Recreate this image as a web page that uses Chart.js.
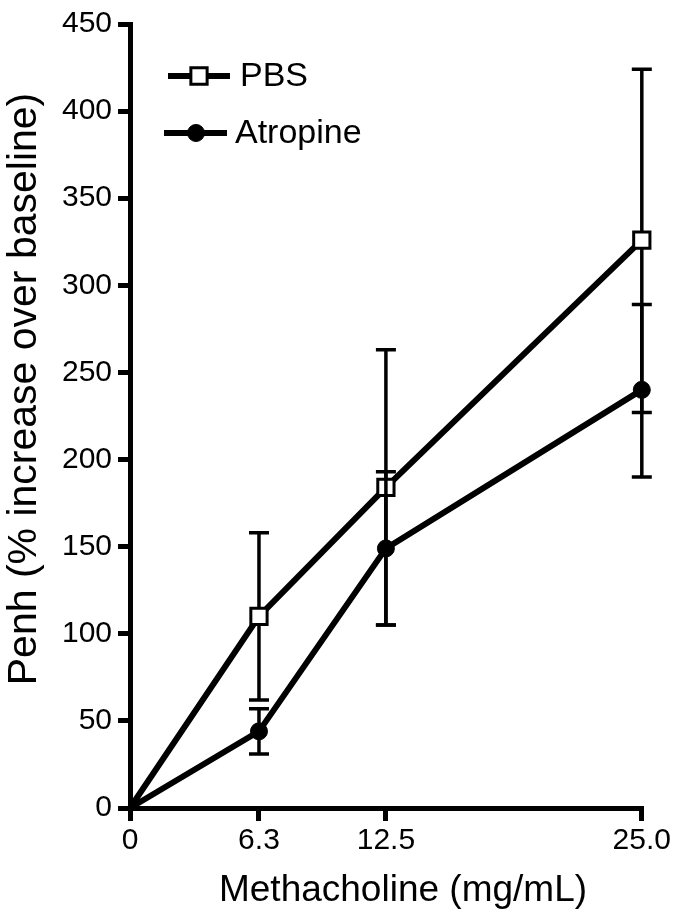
<!DOCTYPE html>
<html><head><meta charset="utf-8">
<script src="https://cdn.jsdelivr.net/npm/chart.js@4"></script>
<style>html,body{margin:0;padding:0;background:#fff}#c{display:block}</style>
</head><body>
<canvas id="c" width="673" height="910"></canvas>
<script>
const doses = [0, 6.3, 12.5, 25.0];
const xTickLabels = ['0', '6.3', '12.5', '25.0'];
const pbsMean = [0, 110, 184, 326];
const pbsHigh = [0, 158, 263, 424];
const pbsLow = [0, 62, 105, 227];
const atrMean = [0, 44, 149, 240];
const atrHigh = [0, 57, 193, 289];
const atrLow = [0, 31, 105, 190];
const seriesNames = ['PBS', 'Atropine'];
const xTitle = 'Methacholine (mg/mL)';
const yTitle = 'Penh (% increase over baseline)';

const FONT = "'Liberation Sans', Arial, Helvetica, sans-serif";
Chart.defaults.font.family = FONT;
Chart.defaults.color = '#000';

const errorBars = {
  id: 'errorBars',
  beforeDatasetDraw(chart, args) {
    const ds = chart.data.datasets[args.index];
    const ctx = chart.ctx, xs = chart.scales.x, ys = chart.scales.y;
    ctx.save();
    ctx.strokeStyle = '#000';
    ctx.lineWidth = 3.5;
    ctx.lineCap = 'butt';
    for (let i = 0; i < doses.length; i++) {
      if (ds.errHigh[i] === ds.errLow[i]) continue;
      const x = xs.getPixelForValue(doses[i]);
      const yH = ys.getPixelForValue(ds.errHigh[i]);
      const yL = ys.getPixelForValue(ds.errLow[i]);
      ctx.beginPath();
      ctx.moveTo(x, yH); ctx.lineTo(x, yL);
      ctx.moveTo(x - 10, yH); ctx.lineTo(x + 10, yH);
      ctx.moveTo(x - 10, yL); ctx.lineTo(x + 10, yL);
      ctx.stroke();
    }
    ctx.restore();
  }
};

const customText = {
  id: 'customText',
  afterDraw(chart) {
    const ctx = chart.ctx;
    ctx.save();
    // x title
    ctx.fillStyle = '#000';
    ctx.font = '37px ' + FONT;
    ctx.textAlign = 'center';
    ctx.textBaseline = 'alphabetic';
    ctx.fillText(xTitle, 403, 901);
    // y title
    ctx.save();
    ctx.translate(36, 389);
    ctx.rotate(-Math.PI / 2);
    ctx.font = '41px ' + FONT;
    ctx.fillText(yTitle, 0, 0);
    ctx.restore();
    // legend
    const rows = [
      {ds: chart.data.datasets[0], x1: 168, x2: 230, mx: 199, y: 76, tx: 240},
      {ds: chart.data.datasets[1], x1: 164, x2: 227, mx: 196, y: 133, tx: 235}
    ];
    rows.forEach(r => {
      ctx.strokeStyle = '#000';
      ctx.lineWidth = 6;
      ctx.beginPath(); ctx.moveTo(r.x1, r.y); ctx.lineTo(r.x2, r.y); ctx.stroke();
      ctx.fillStyle = r.ds.pointBackgroundColor;
      ctx.strokeStyle = '#000';
      ctx.lineWidth = r.ds.pointBorderWidth;
      ctx.beginPath();
      if (r.ds.pointStyle === 'rect') {
        const s = r.ds.pointRadius[1] * Math.SQRT1_2;
        ctx.rect(r.mx - s, r.y - s, 2 * s, 2 * s);
      } else {
        ctx.arc(r.mx, r.y, r.ds.pointRadius[1], 0, Math.PI * 2);
      }
      ctx.fill(); ctx.stroke();
      ctx.fillStyle = '#000';
      ctx.font = '34px ' + FONT;
      ctx.textAlign = 'left';
      ctx.textBaseline = 'middle';
      ctx.fillText(r.ds.label, r.tx, r.y + 1);
    });
    ctx.restore();
  }
};

new Chart(document.getElementById('c'), {
  type: 'line',
  data: {
    datasets: [
      {
        label: seriesNames[0],
        data: doses.map((d, i) => ({x: d, y: pbsMean[i]})),
        errHigh: pbsHigh, errLow: pbsLow,
        borderColor: '#000', borderWidth: 6, tension: 0,
        pointStyle: 'rect', pointRadius: [0, 11.5, 11.5, 11.5],
        pointBackgroundColor: '#fff', pointBorderColor: '#000', pointBorderWidth: 3,
        order: 2, clip: false
      },
      {
        label: seriesNames[1],
        data: doses.map((d, i) => ({x: d, y: atrMean[i]})),
        errHigh: atrHigh, errLow: atrLow,
        borderColor: '#000', borderWidth: 6, tension: 0,
        pointStyle: 'circle', pointRadius: [0, 8.5, 8.5, 8.5],
        pointBackgroundColor: '#000', pointBorderColor: '#000', pointBorderWidth: 1,
        order: 1, clip: false
      }
    ]
  },
  options: {
    responsive: false,
    animation: false,
    devicePixelRatio: 1,
    layout: {padding: {top: 24, right: 30, left: 0, bottom: 0}},
    plugins: {legend: {display: false}, tooltip: {enabled: false}},
    scales: {
      x: {
        type: 'linear', min: 0, max: 25,
        afterBuildTicks: s => { s.ticks = doses.map(v => ({value: v})); },
        afterFit: s => { s.height = 102; },
        ticks: {
          callback: v => xTickLabels[doses.indexOf(v)],
          color: '#000', font: {size: 30}, padding: 2, maxRotation: 0, autoSkip: false
        },
        grid: {drawOnChartArea: false, drawTicks: true, tickLength: 13, lineWidth: 5, color: '#000'},
        border: {display: true, width: 5, color: '#000'}
      },
      y: {
        min: 0, max: 450,
        afterFit: s => { s.width = 130; },
        ticks: {stepSize: 50, color: '#000', font: {size: 30}, padding: 6},
        grid: {drawOnChartArea: false, drawTicks: true, tickLength: 12, lineWidth: 5, color: '#000'},
        border: {display: true, width: 5, color: '#000'}
      }
    }
  },
  plugins: [errorBars, customText]
});
</script>
</body></html>
